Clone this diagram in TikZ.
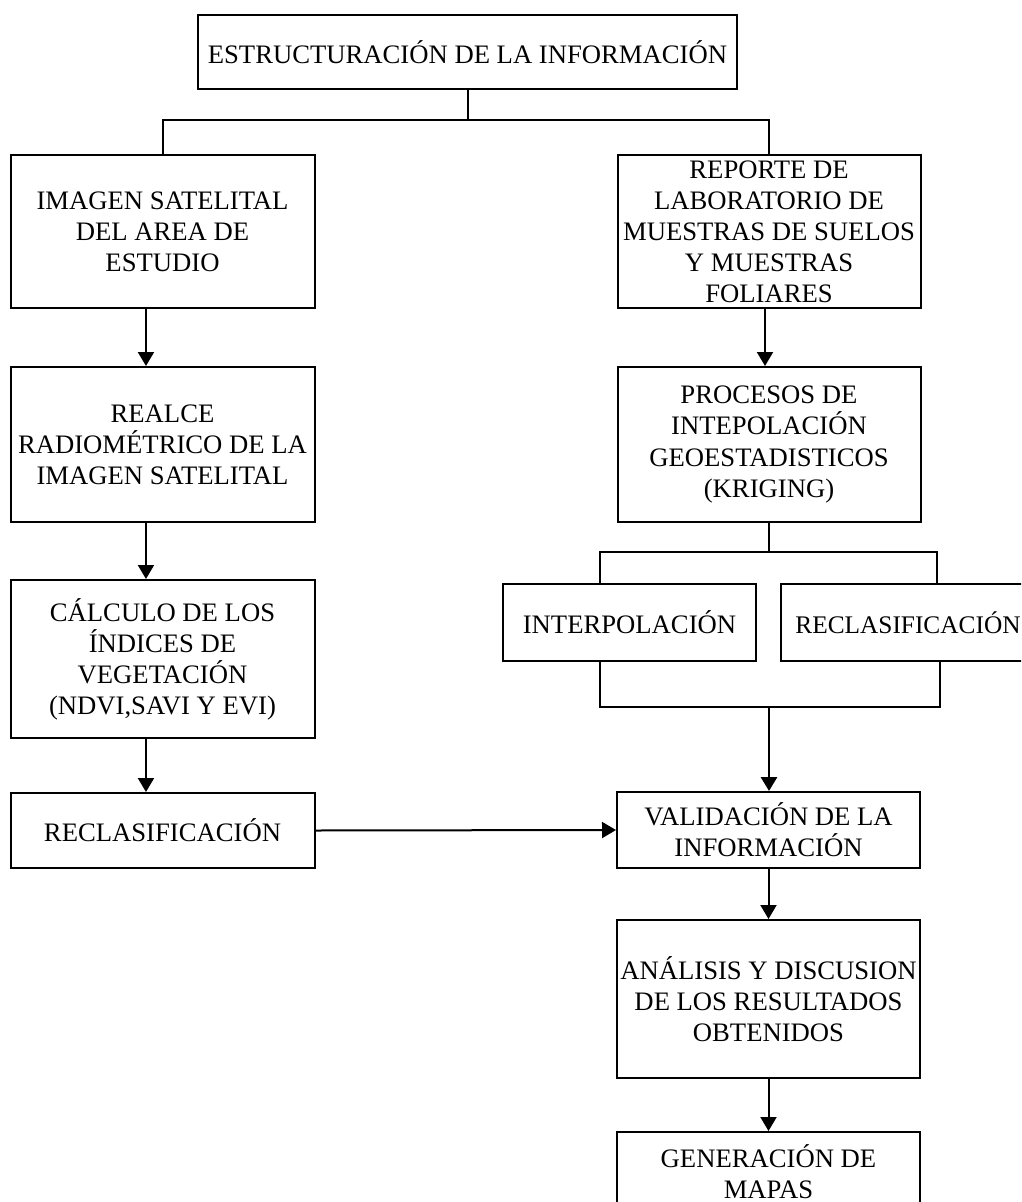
\documentclass[tikz,border=0pt]{standalone}
\usepackage{fontspec}
\setmainfont{Liberation Serif}
\usetikzlibrary{arrows.meta}

\def\colorLinea{black}

\tikzset{
    caja/.style={draw=\colorLinea, line width=1.5pt, rectangle, align=center, inner sep=0pt,
        font=\fontsize{20}{23.3}\selectfont},
    linea/.style={draw=\colorLinea, line width=1.5pt},
    flecha/.style={linea, -{Triangle[width=12pt,length=10.5pt]}}
}

\begin{document}
\begin{tikzpicture}[x=0.75pt, y=-0.75pt]

    % Define parameters
    \def\anchoCol{228pt}
    \def\anchoDer{227.25pt}
    \def\desp{12.4pt}

    \useasboundingbox (0,0) rectangle (1021,1202);
    \clip (0,0) rectangle (1021,1202);

    % top
    \node[caja, minimum width=404.25pt, minimum height=55.5pt] (estr) at (467.5,52) {ESTRUCTURACIÓN DE LA INFORMACIÓN};

    % left column
    \node[caja, minimum width=\anchoCol, minimum height=114.75pt] (imagen) at (162.5,231.5) {IMAGEN SATELITAL\\DEL AREA DE\\ESTUDIO};
    \node[caja, minimum width=\anchoCol, minimum height=116.25pt] (realce) at (162.5,444.5) {REALCE\\RADIOMÉTRICO DE LA\\IMAGEN SATELITAL};
    \node[caja, minimum width=\anchoCol, minimum height=118.5pt] (calculo) at (162.5,659) {CÁLCULO DE LOS\\ÍNDICES DE\\VEGETACIÓN\\(NDVI,SAVI Y EVI)};
    \node[caja, minimum width=\anchoCol, minimum height=56.25pt] (reclasIzq) at (162.5,830.5) {RECLASIFICACIÓN};

    % right column
    \node[caja, minimum width=\anchoDer, minimum height=114.75pt] (reporte) at (769,231.5) {REPORTE DE\\LABORATORIO DE\\MUESTRAS DE SUELOS\\Y MUESTRAS\\FOLIARES};
    \node[caja, minimum width=\anchoDer, minimum height=116.25pt] (procesos) at (769,444.5) {PROCESOS DE\\INTEPOLACIÓN\\GEOESTADISTICOS\\(KRIGING)};
    \node[caja, minimum width=189.75pt, minimum height=57.75pt] (interp) at (629.5,622.5) {INTERPOLACIÓN};
    \node[caja, minimum width=190.5pt, minimum height=57.75pt, font=\fontsize{19}{23.3}\selectfont] (reclasDer) at (908,622.5) {RECLASIFICACIÓN};
    \node[caja, minimum width=\anchoDer, minimum height=57pt] (valida) at (768.5,830) {VALIDACIÓN DE LA\\INFORMACIÓN};
    \node[caja, minimum width=\anchoDer, minimum height=118.5pt] (analisis) at (768.5,999) {ANÁLISIS Y DISCUSION\\DE LOS RESULTADOS\\OBTENIDOS};
    \node[caja, minimum width=\anchoDer, minimum height=59.25pt] (mapas) at (768.5,1171.5) {GENERACIÓN DE\\MAPAS};

    % branches
    \coordinate (ramaA) at (467.5,120);
    \coordinate (ramaB) at (769,552);
    \coordinate (ramaC) at (769,707);

    \draw[linea] (estr.south) -- (ramaA);
    \draw[linea] (imagen.north) |- (ramaA) -| (reporte.north);

    \draw[linea] (procesos.south) -- (ramaB);
    \draw[linea] ([xshift=-22pt]interp.north) |- (ramaB) -| ([xshift=22pt]reclasDer.north);
    \draw[linea] ([xshift=-22pt]interp.south) |- (ramaC) -| ([xshift=24pt]reclasDer.south);

    % arrows
    \draw[flecha] ([xshift=-\desp]imagen.south) -- ([xshift=-\desp]realce.north);
    \draw[flecha] ([xshift=-\desp]realce.south) -- ([xshift=-\desp]calculo.north);
    \draw[flecha] ([xshift=-\desp]calculo.south) -- ([xshift=-\desp]reclasIzq.north);
    \draw[flecha] ([xshift=-3pt]reporte.south) -- ([xshift=-3pt]procesos.north);
    \draw[flecha, line width=2.2pt] (ramaC) -- (ramaC |- valida.north);
    \draw[flecha] (reclasIzq.east) -- (valida.west);
    \draw[flecha] (valida.south) -- (analisis.north);
    \draw[flecha] (analisis.south) -- (mapas.north);

\end{tikzpicture}
\end{document}
